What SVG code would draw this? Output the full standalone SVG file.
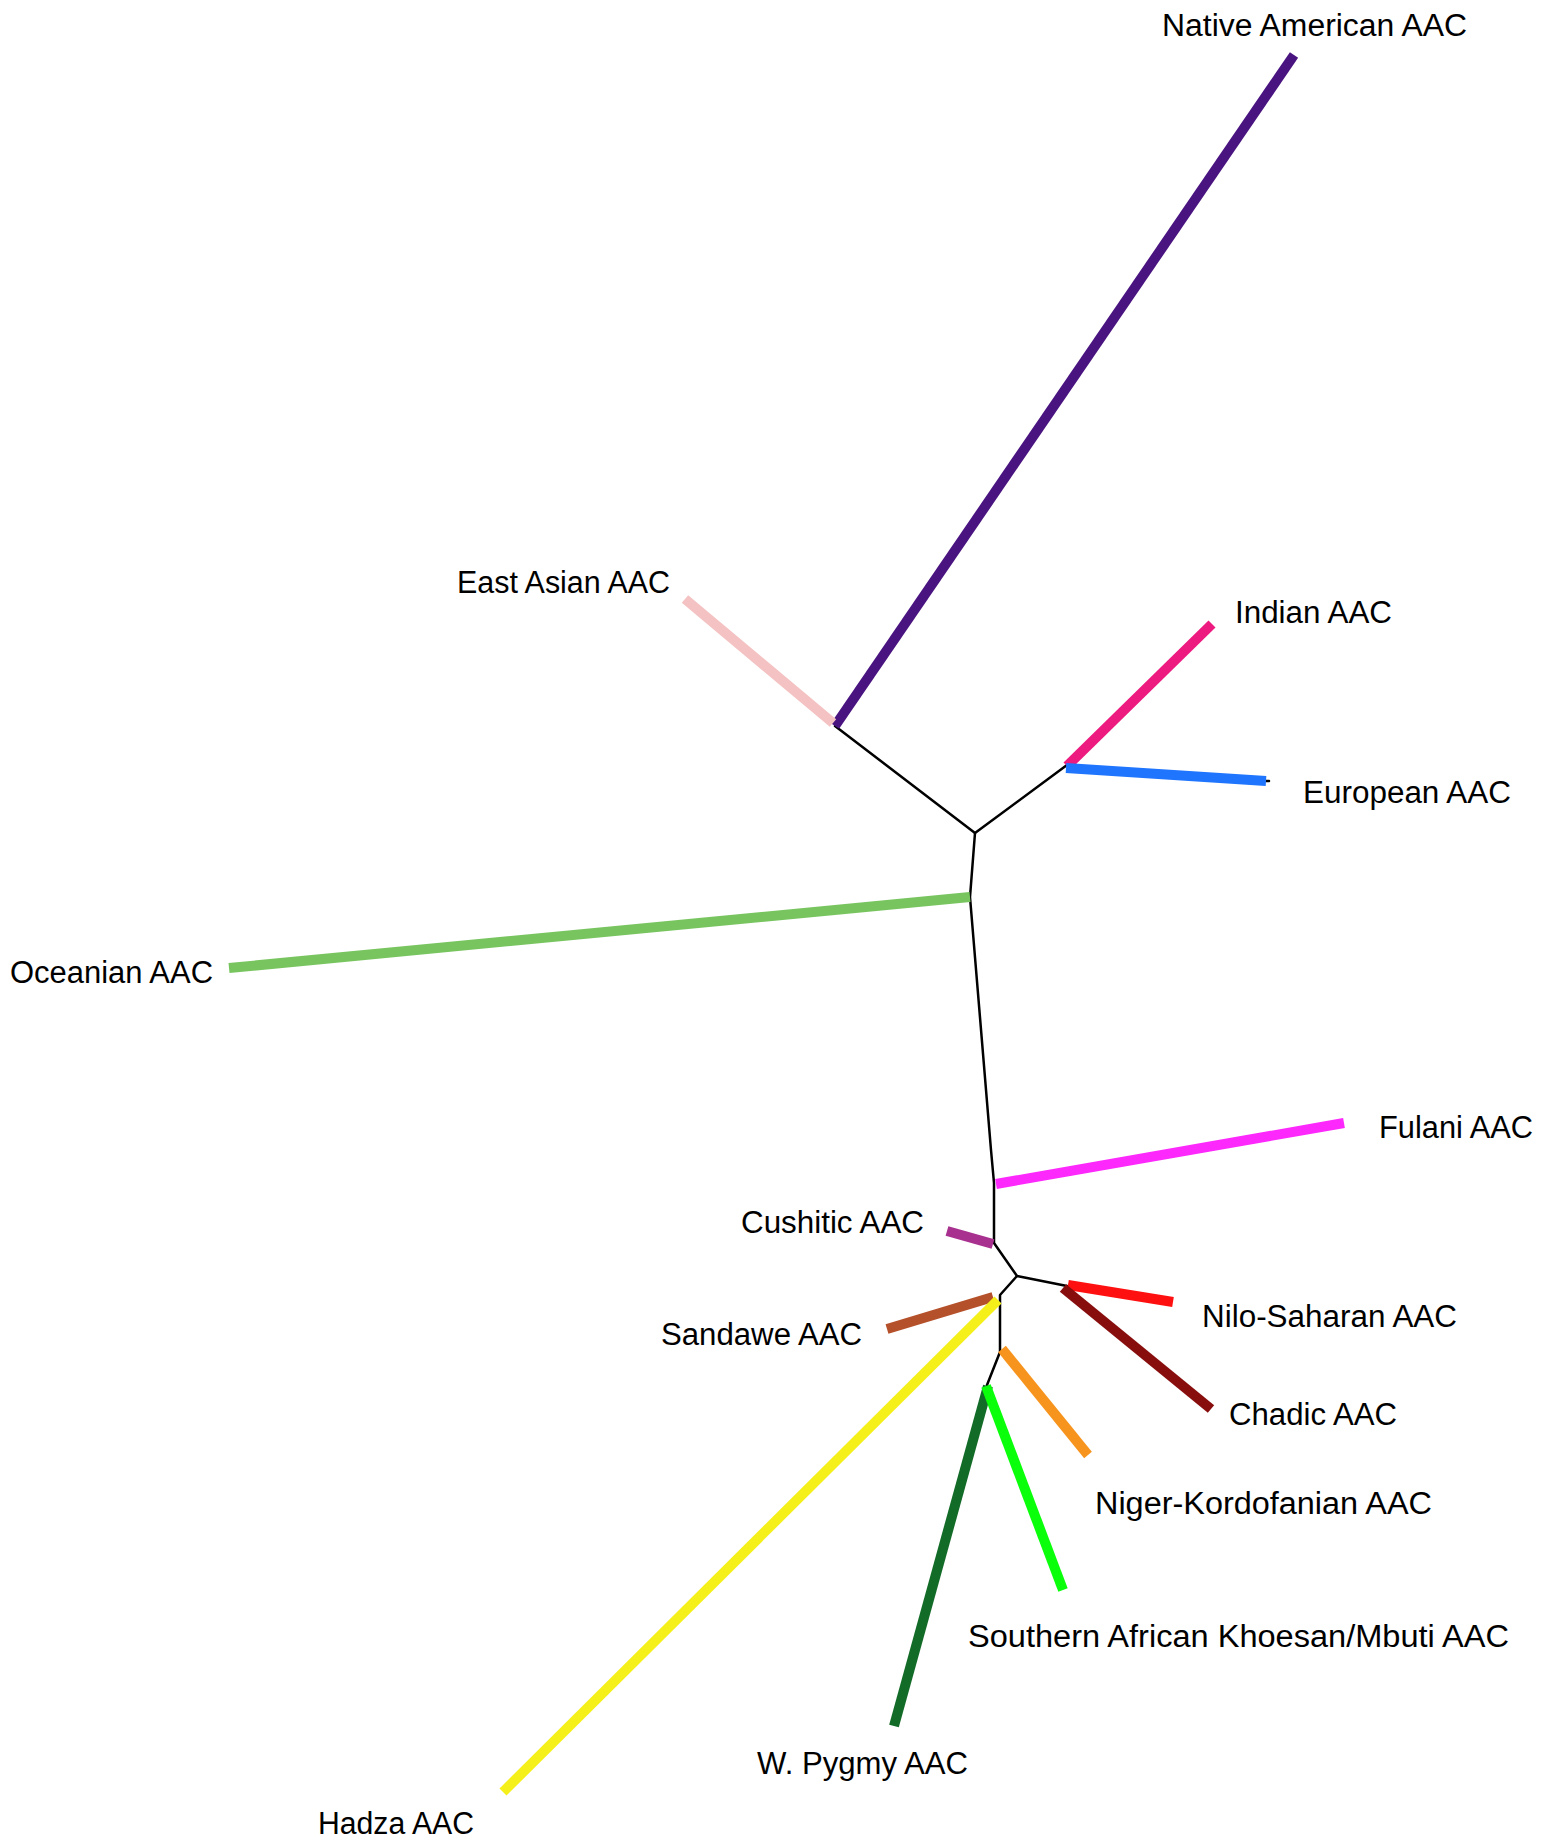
<svg xmlns="http://www.w3.org/2000/svg" width="1554" height="1840" viewBox="0 0 1554 1840">
<style>
.t{font-family:"Liberation Sans",Arial,sans-serif;font-size:31px;fill:#000}
.b{stroke:#000;stroke-width:2.5;fill:none;stroke-linecap:round;stroke-linejoin:round}
.c{stroke-width:10;fill:none;stroke-linecap:butt}
</style>
<rect width="1554" height="1840" fill="#fff"/>
<g id="connectors">
<polyline class="b" points="835,726 975,833 1067,765"/>
<polyline class="b" points="975,833 970,897 991,1150 994,1183 994,1243 1017,1276 1067,1286"/>
<polyline class="b" points="1017,1276 1000,1295 1000,1352 987,1385"/>
<line class="b" x1="1264" y1="781" x2="1269" y2="781"/>
</g>
<g id="native-american"><line class="c" stroke="#4a1480" x1="835" y1="726" x2="1294" y2="55"/><text class="t" x="1162" y="36" textLength="305" lengthAdjust="spacingAndGlyphs">Native American AAC</text></g>
<g id="east-asian"><line class="c" stroke="#f4c2c2" x1="833" y1="723" x2="685" y2="599"/><text class="t" x="457" y="593" textLength="213" lengthAdjust="spacingAndGlyphs">East Asian AAC</text></g>
<g id="indian"><line class="c" stroke="#ed1a80" x1="1067" y1="766" x2="1212" y2="624"/><text class="t" x="1235" y="623" textLength="157" lengthAdjust="spacingAndGlyphs">Indian AAC</text></g>
<g id="european"><line class="c" stroke="#1f75fe" x1="1066" y1="768" x2="1266" y2="781"/><text class="t" x="1303" y="803" textLength="208" lengthAdjust="spacingAndGlyphs">European AAC</text></g>
<g id="oceanian"><line class="c" stroke="#78c560" x1="970" y1="897" x2="229" y2="968"/><text class="t" x="10" y="983" textLength="203" lengthAdjust="spacingAndGlyphs">Oceanian AAC</text></g>
<g id="fulani"><line class="c" stroke="#fc28fc" x1="996" y1="1184" x2="1344" y2="1123"/><text class="t" x="1379" y="1138" textLength="154" lengthAdjust="spacingAndGlyphs">Fulani AAC</text></g>
<g id="cushitic"><line class="c" stroke="#a8308e" x1="947" y1="1231" x2="993" y2="1244"/><text class="t" x="741" y="1233" textLength="183" lengthAdjust="spacingAndGlyphs">Cushitic AAC</text></g>
<g id="nilo-saharan"><line class="c" stroke="#ff1010" x1="1068" y1="1285" x2="1173" y2="1302"/><text class="t" x="1202" y="1327" textLength="255" lengthAdjust="spacingAndGlyphs">Nilo-Saharan AAC</text></g>
<g id="chadic"><line class="c" stroke="#880e0e" x1="1063" y1="1288" x2="1211" y2="1409"/><text class="t" x="1229" y="1425" textLength="168" lengthAdjust="spacingAndGlyphs">Chadic AAC</text></g>
<g id="sandawe"><line class="c" stroke="#b5512a" x1="887" y1="1329" x2="993" y2="1297"/><text class="t" x="661" y="1345" textLength="201" lengthAdjust="spacingAndGlyphs">Sandawe AAC</text></g>
<g id="hadza"><line class="c" stroke="#f5f01a" x1="998" y1="1300" x2="503" y2="1792"/><text class="t" x="318" y="1834" textLength="156" lengthAdjust="spacingAndGlyphs">Hadza AAC</text></g>
<g id="niger-kordofanian"><line class="c" stroke="#f7941d" x1="1002" y1="1349" x2="1088" y2="1455"/><text class="t" x="1095" y="1514" textLength="337" lengthAdjust="spacingAndGlyphs">Niger-Kordofanian AAC</text></g>
<g id="w-pygmy"><line class="c" stroke="#136b28" x1="988" y1="1386" x2="894" y2="1726"/><text class="t" x="757" y="1774" textLength="211" lengthAdjust="spacingAndGlyphs">W. Pygmy AAC</text></g>
<g id="southern-african"><line class="c" stroke="#0aff0a" x1="986" y1="1386" x2="1063" y2="1590"/><text class="t" x="968" y="1647" textLength="541" lengthAdjust="spacingAndGlyphs">Southern African Khoesan/Mbuti AAC</text></g>
</svg>
